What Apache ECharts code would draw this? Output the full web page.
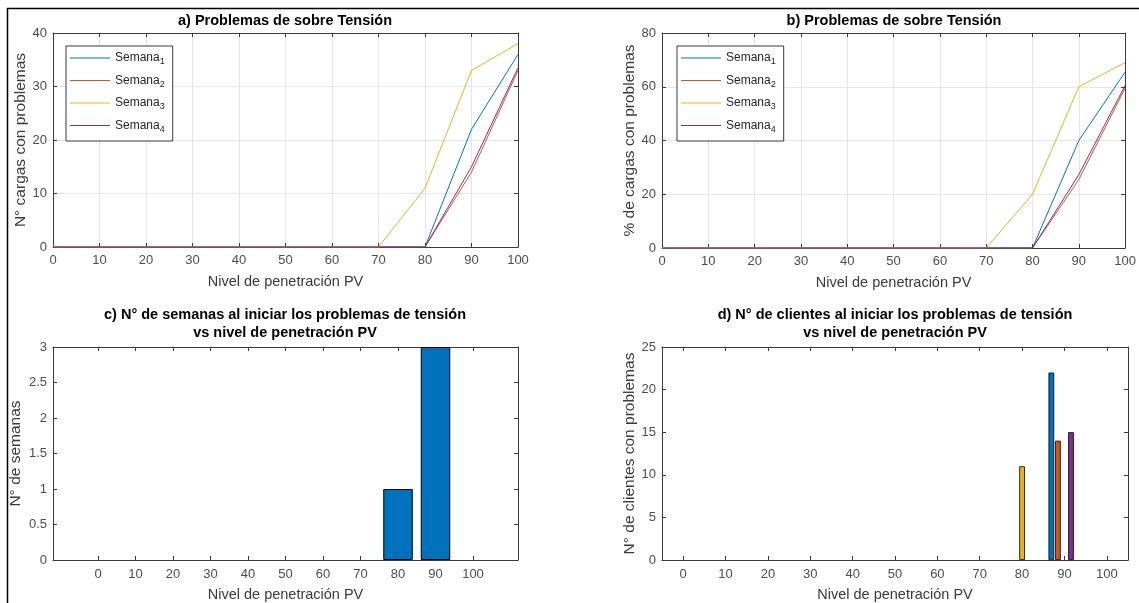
<!DOCTYPE html>
<html>
<head>
<meta charset="utf-8">
<script src="https://cdn.jsdelivr.net/npm/echarts@6/dist/echarts.min.js"></script>
<style>
  html, body { margin: 0; padding: 0; background: #fff; }
  #chart { width: 1139px; height: 603px; }
</style>
</head>
<body>
<div id="chart"></div>
<script>
// Penetration levels (x axis of every panel)
const niveles = [0, 10, 20, 30, 40, 50, 60, 70, 80, 90, 100];
const ticksX = [0, 10, 20, 30, 40, 50, 60, 70, 80, 90, 100];

// a) number of loads with over-voltage problems, per week
const cargas1 = [0, 0, 0, 0, 0, 0, 0, 0, 0, 22, 36];
const cargas2 = [0, 0, 0, 0, 0, 0, 0, 0, 0, 14, 33];
const cargas3 = [0, 0, 0, 0, 0, 0, 0, 0, 11, 33, 38];
const cargas4 = [0, 0, 0, 0, 0, 0, 0, 0, 0, 15, 33.5];

// b) percentage of loads with problems, per week
const pct1 = [0, 0, 0, 0, 0, 0, 0, 0, 0, 40, 65.5];
const pct2 = [0, 0, 0, 0, 0, 0, 0, 0, 0, 25.5, 59.5];
const pct3 = [0, 0, 0, 0, 0, 0, 0, 0, 20, 60, 69];
const pct4 = [0, 0, 0, 0, 0, 0, 0, 0, 0, 27.3, 60.5];

// c) number of weeks where problems start at each level
const semanasInicio = [0, 0, 0, 0, 0, 0, 0, 0, 1, 3, 0];

// d) number of customers when problems start, per week
const clientes1 = [0, 0, 0, 0, 0, 0, 0, 0, 0, 22, 0];
const clientes2 = [0, 0, 0, 0, 0, 0, 0, 0, 0, 14, 0];
const clientes3 = [0, 0, 0, 0, 0, 0, 0, 0, 11, 0, 0];
const clientes4 = [0, 0, 0, 0, 0, 0, 0, 0, 0, 15, 0];

const nombres = ['Semana1', 'Semana2', 'Semana3', 'Semana4'];
const colores = ['#0072BD', '#D95319', '#EDB120', '#7E2F8E'];

const FONT = '"Liberation Sans", Arial, Helvetica, sans-serif';
const AX = '#3a3a3a';
const LBL = '#4d4d4d';
const GRIDC = '#e6e6e6';

const pairs = arr => arr.map((v, i) => [niveles[i], v]);
const nonZero = arr => pairs(arr).filter(p => p[1] !== 0);

// bottom + top x axes for one panel (top one only carries inward ticks)
function xAxes(gi, cfg) {
  const tick = { show: true, inside: true, length: 4, lineStyle: { color: AX } };
  const label = { color: LBL, fontSize: 13, fontFamily: FONT, margin: cfg.labelMargin };
  if (cfg.custom) { tick.customValues = cfg.custom; label.customValues = cfg.custom; }
  const base = { type: 'value', gridIndex: gi, min: cfg.min, max: cfg.max };
  if (cfg.interval) base.interval = cfg.interval;
  return [
    Object.assign({}, base, {
      position: 'bottom',
      axisLine: { show: true, onZero: false, lineStyle: { color: AX } },
      axisTick: tick,
      axisLabel: label,
      splitLine: { show: !!cfg.grid, lineStyle: { color: GRIDC } },
      name: 'Nivel de penetración PV', nameLocation: 'middle', nameGap: cfg.nameGap,
      nameTextStyle: { fontSize: 14.5, color: AX, fontFamily: FONT }
    }),
    Object.assign({}, base, {
      position: 'top',
      axisLine: { show: true, onZero: false, lineStyle: { color: AX } },
      axisTick: Object.assign({}, tick),
      axisLabel: { show: false, customValues: cfg.custom },
      splitLine: { show: false }
    })
  ];
}

// left + right y axes for one panel
function yAxes(gi, cfg) {
  const base = { type: 'value', gridIndex: gi, min: cfg.min, max: cfg.max, interval: cfg.interval };
  return [
    Object.assign({}, base, {
      position: 'left',
      axisLine: { show: true, onZero: false, lineStyle: { color: AX } },
      axisTick: { show: true, inside: true, length: 4, lineStyle: { color: AX } },
      axisLabel: { color: LBL, fontSize: 13, fontFamily: FONT, margin: 6 },
      splitLine: { show: !!cfg.grid, lineStyle: { color: GRIDC } },
      name: cfg.name, nameLocation: 'middle', nameRotate: 90, nameGap: cfg.nameGap,
      nameTextStyle: { fontSize: 15.5, color: AX, fontFamily: FONT }
    }),
    Object.assign({}, base, {
      position: 'right',
      axisLine: { show: true, onZero: false, lineStyle: { color: AX } },
      axisTick: { show: true, inside: true, length: 4, lineStyle: { color: AX } },
      axisLabel: { show: false },
      splitLine: { show: false }
    })
  ];
}

const legendBase = {
  orient: 'vertical',
  top: 46,
  data: nombres,
  icon: 'rect',
  itemWidth: 40,
  itemHeight: 1.2,
  itemGap: 8,
  padding: [6, 8, 7, 4],
  backgroundColor: '#ffffff',
  borderColor: AX,
  borderWidth: 1,
  borderRadius: 0,
  selectedMode: false,
  formatter: n => '{n|Semana}{s|' + n.slice(-1) + '}',
  textStyle: {
    color: '#262626', fontFamily: FONT, fontSize: 12,
    rich: {
      n: { fontSize: 12, fontFamily: FONT, color: '#262626' },
      s: { fontSize: 9, fontFamily: FONT, color: '#262626', padding: [8, 0, 0, 0] }
    }
  }
};

const lineSeries = (name, data, color, xi, yi) => ({
  type: 'line', name, data: pairs(data), xAxisIndex: xi, yAxisIndex: yi,
  showSymbol: false, symbol: 'none', animation: false,
  lineStyle: { color, width: 1 }, itemStyle: { color }
});

const series = [];
[cargas1, cargas2, cargas3, cargas4].forEach((d, i) => series.push(lineSeries(nombres[i], d, colores[i], 0, 0)));
[pct1, pct2, pct3, pct4].forEach((d, i) => series.push(lineSeries(nombres[i], d, colores[i], 2, 2)));

series.push({
  type: 'bar', name: 'semanas', data: nonZero(semanasInicio), xAxisIndex: 4, yAxisIndex: 4,
  barWidth: 29.5, animation: false,
  itemStyle: { color: '#0072BD', borderColor: '#000', borderWidth: 1 }
});

[clientes1, clientes2, clientes3, clientes4].forEach((d, i) => series.push({
  type: 'bar', name: 'clientes ' + (i + 1), data: nonZero(d),
  xAxisIndex: 6, yAxisIndex: 6, barWidth: 5.7, barGap: '15%', animation: false,
  itemStyle: { color: colores[i], borderColor: '#000', borderWidth: 0.8 }
}));
// empty fifth slot of the grouped bars: keeps the group's left-leaning layout
series.push({
  type: 'bar', name: 'reserva', data: [], xAxisIndex: 6, yAxisIndex: 6,
  barWidth: 5.7, barGap: '15%', animation: false
});

const titleStyle = { fontSize: 14.5, fontWeight: 'bold', color: '#000', fontFamily: FONT, lineHeight: 18 };

const option = {
  animation: false,
  backgroundColor: '#ffffff',
  title: [
    { text: 'a) Problemas de sobre Tensión', left: 285, top: 12, textAlign: 'center', textStyle: titleStyle, padding: 0 },
    { text: 'b) Problemas de sobre Tensión', left: 894, top: 12, textAlign: 'center', textStyle: titleStyle, padding: 0 },
    { text: 'c) N° de semanas al iniciar los problemas de tensión\nvs nivel de penetración PV', left: 285, top: 306, textAlign: 'center', textStyle: titleStyle, padding: 0 },
    { text: 'd) N° de clientes al iniciar los problemas de tensión\nvs nivel de penetración PV', left: 895, top: 306, textAlign: 'center', textStyle: titleStyle, padding: 0 }
  ],
  legend: [
    Object.assign({}, legendBase, { left: 66 }),
    Object.assign({}, legendBase, { left: 677 })
  ],
  grid: [
    { left: 53, top: 33, width: 465, height: 214, show: true, borderWidth: 0, backgroundColor: '#fff' },
    { left: 662, top: 33, width: 464, height: 215, show: true, borderWidth: 0, backgroundColor: '#fff' },
    { left: 53, top: 347, width: 465, height: 214, show: true, borderWidth: 0, backgroundColor: '#fff' },
    { left: 662, top: 347, width: 466, height: 214, show: true, borderWidth: 0, backgroundColor: '#fff' }
  ],
  xAxis: [].concat(
    xAxes(0, { min: 0, max: 100, interval: 10, grid: true, labelMargin: 7, nameGap: 27 }),
    xAxes(1, { min: 0, max: 100, interval: 10, grid: true, labelMargin: 7, nameGap: 27 }),
    xAxes(2, { min: -12, max: 112, custom: ticksX, labelMargin: 8, nameGap: 27 }),
    xAxes(3, { min: -5, max: 105, custom: ticksX, labelMargin: 8, nameGap: 27 })
  ),
  yAxis: [].concat(
    yAxes(0, { min: 0, max: 40, interval: 10, grid: true, name: 'N° cargas con problemas', nameGap: 24 }),
    yAxes(1, { min: 0, max: 80, interval: 20, grid: true, name: '% de cargas con problemas', nameGap: 23 }),
    yAxes(2, { min: 0, max: 3, interval: 0.5, name: 'N° de semanas', nameGap: 29 }),
    yAxes(3, { min: 0, max: 25, interval: 5, name: 'N° de clientes con problemas', nameGap: 22 })
  ),
  graphic: [
    { type: 'rect', silent: true, z: 100,
      shape: { x: 7.5, y: 8.5, width: 1200, height: 700 },
      style: { fill: null, stroke: '#000', lineWidth: 1.5 } }
  ],
  series
};

const chart = echarts.init(document.getElementById('chart'), null, { renderer: 'canvas' });
chart.setOption(option);
</script>
</body>
</html>
